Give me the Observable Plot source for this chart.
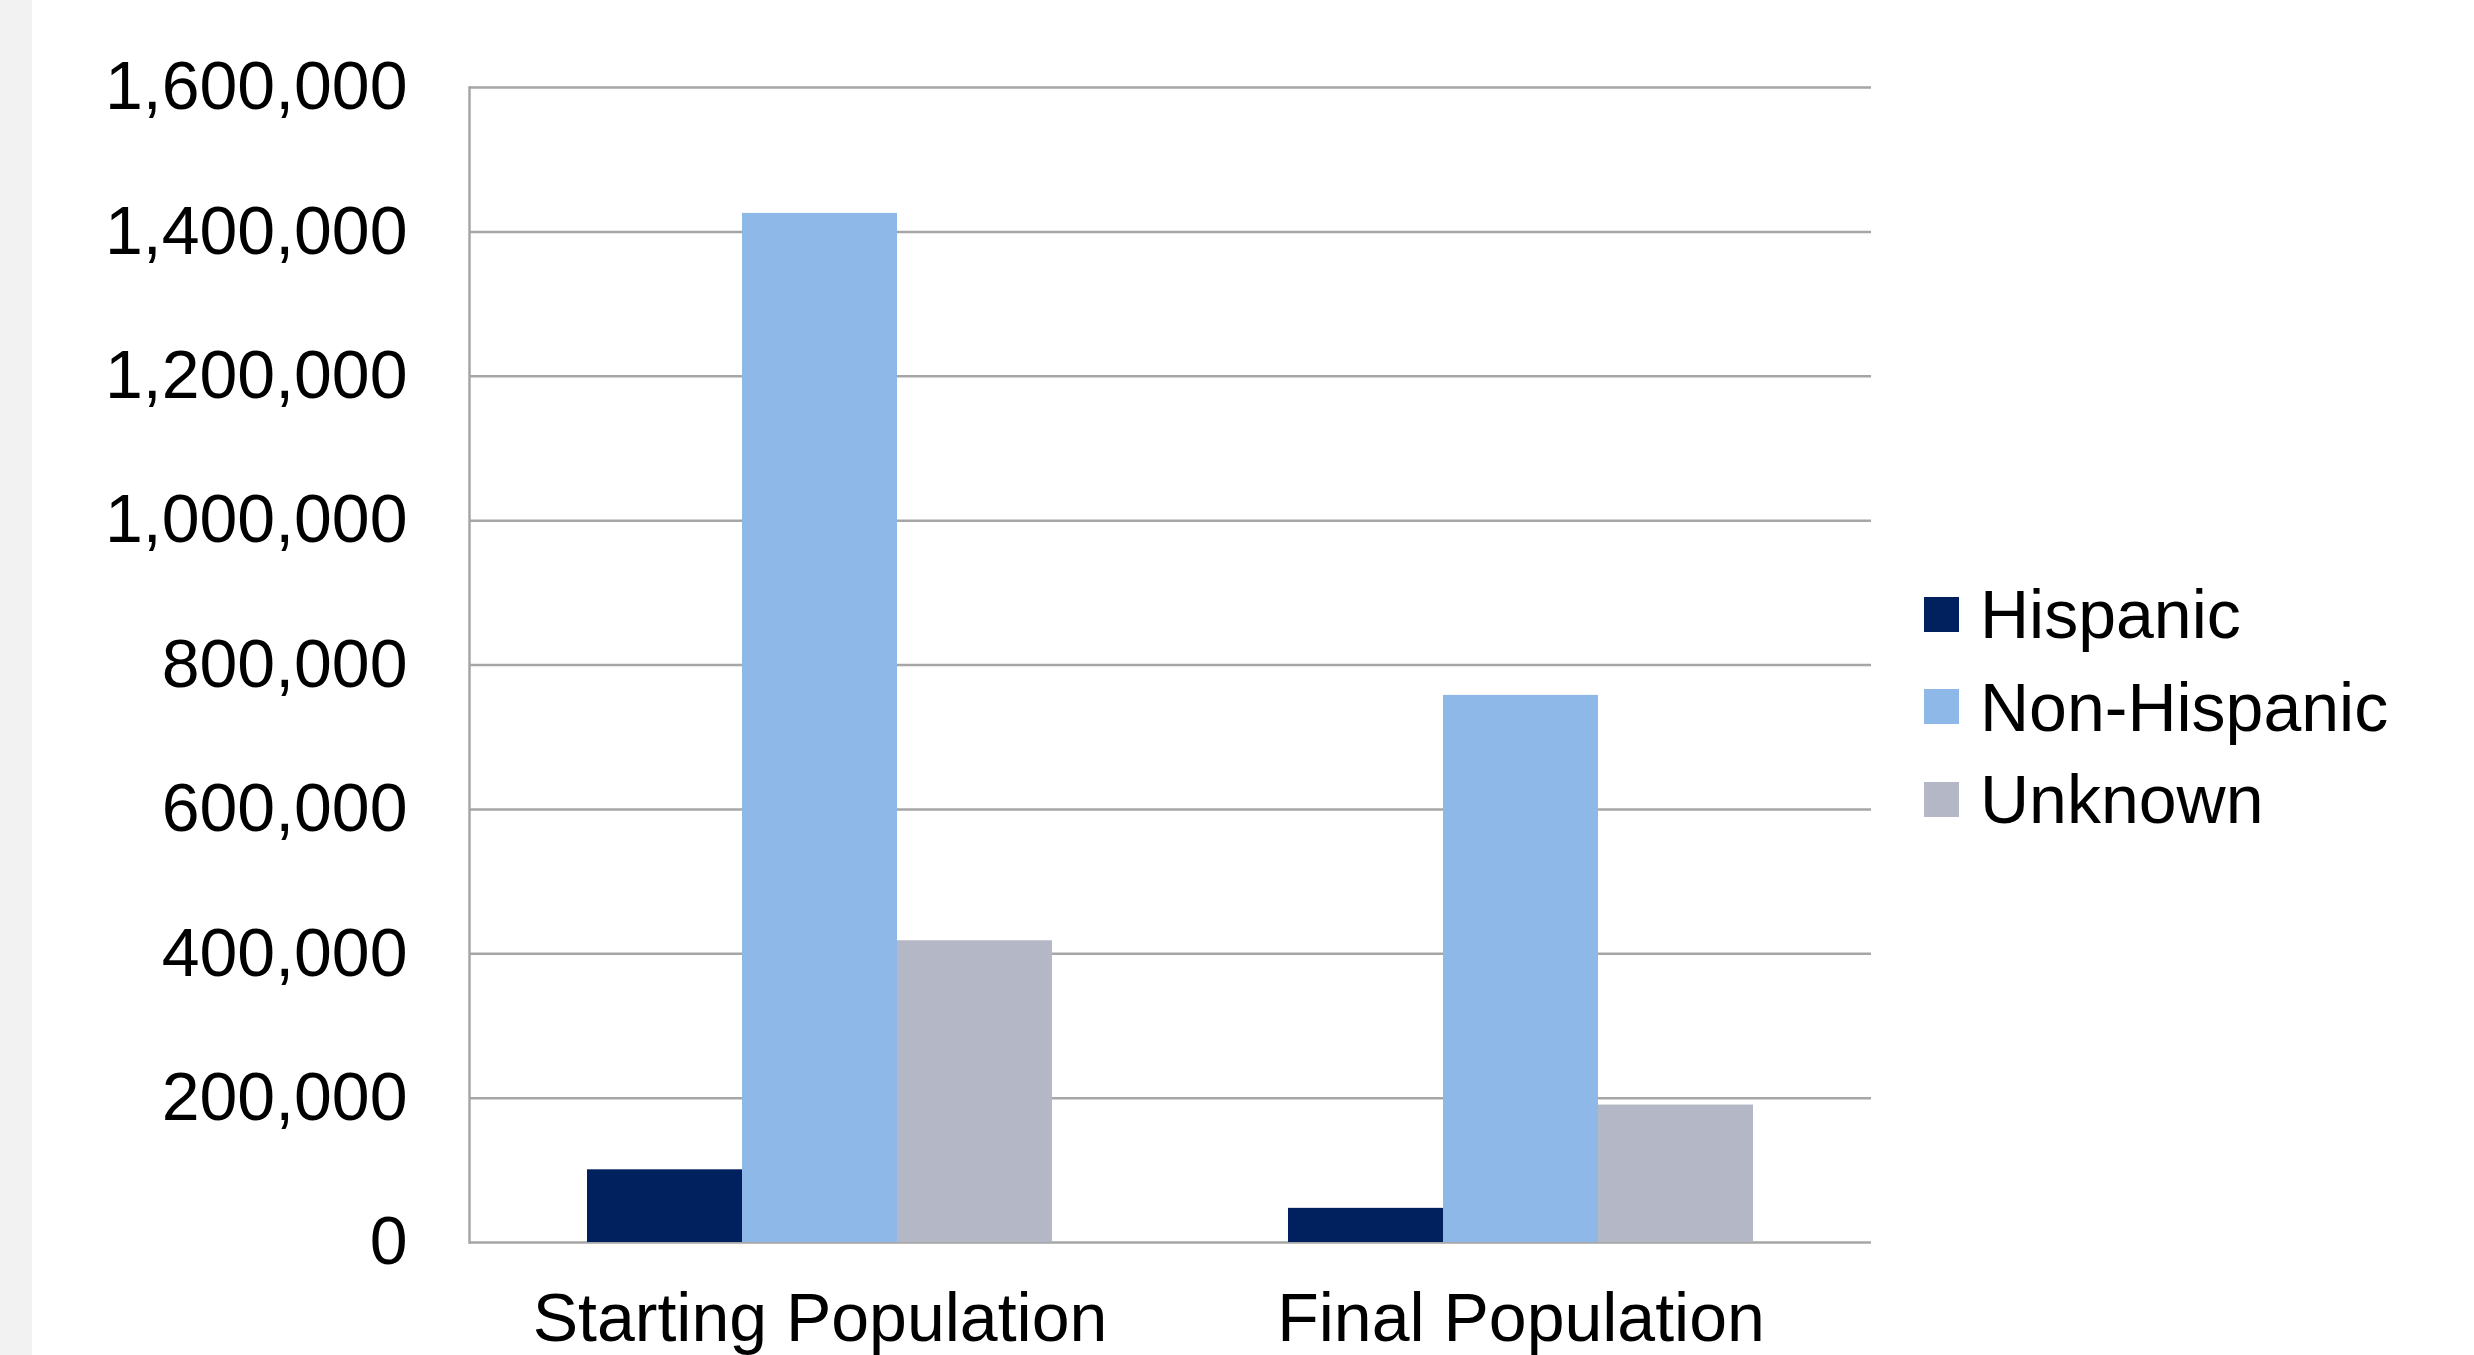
<!DOCTYPE html>
<html><head><meta charset="utf-8">
<script src="https://cdn.jsdelivr.net/npm/d3@7"></script>
<script src="https://cdn.jsdelivr.net/npm/@observablehq/plot@0.6"></script>
<style>
html,body{margin:0;padding:0;background:#fff;width:2474px;height:1355px;overflow:hidden;font-family:"Liberation Sans",Arial,sans-serif;}
#strip{position:absolute;left:0;top:0;width:32px;height:1355px;background:#f2f2f2;}
#chart{position:absolute;left:0;top:0;}
#legend{position:absolute;left:1924px;top:568px;}
.item{display:flex;align-items:center;height:92.5px;font-size:68px;line-height:68px;color:#000;white-space:nowrap;}
.sw{width:35px;height:35px;margin-right:21px;flex:none;}
</style></head>
<body><div id="strip"></div><div id="chart"></div><div id="legend"></div>
<script>
const categories = ["Starting Population", "Final Population"];
const series = ["Hispanic", "Non-Hispanic", "Unknown"];
const hispanic = [100700, 47300];
const nonHispanic = [1425600, 757900];
const unknown = [418000, 190400];
const colors = ["#00215E", "#8EB8E8", "#B4B7C6"];
const yTicks = [0, 200000, 400000, 600000, 800000, 1000000, 1200000, 1400000, 1600000];

const values = [hispanic, nonHispanic, unknown];
const data = categories.flatMap((c, i) => series.map((s, j) => ({category: c, series: s, value: values[j][i]})));

const chart = Plot.plot({
  width: 2474, height: 1355,
  marginLeft: 469, marginRight: 603, marginTop: 87, marginBottom: 113,
  style: {background: "transparent", fontFamily: "'Liberation Sans', Arial, sans-serif", fontSize: "68px", color: "#000", overflow: "visible"},
  fx: {domain: categories, padding: 0, label: null},
  x: {domain: series, paddingInner: 0, paddingOuter: 0.75, axis: null},
  y: {domain: [0, 1600000], axis: null},
  color: {domain: series, range: colors},
  marks: [
    Plot.gridY(yTicks, {stroke: "#a6a6a6", strokeOpacity: 1, strokeWidth: 2.5}),
    Plot.frame({anchor: "left", facetAnchor: "left", stroke: "#a6a6a6", strokeWidth: 2.5}),
    Plot.barY(data, {fx: "category", x: "series", y: "value", fill: "series"}),
    Plot.axisY(yTicks, {tickSize: 0, tickPadding: 62, tickFormat: d3.format(","), fontSize: 68, label: null, fill: "#000"}),
    Plot.axisFx({anchor: "bottom", tickSize: 0, tickPadding: 50, fontSize: 68, label: null, fill: "#000"})
  ]
});
document.getElementById("chart").appendChild(chart);

const legend = document.getElementById("legend");
series.forEach((s, i) => {
  const item = document.createElement("div");
  item.className = "item";
  const sw = document.createElement("div");
  sw.className = "sw";
  sw.style.background = colors[i];
  const label = document.createElement("span");
  label.textContent = s;
  item.appendChild(sw);
  item.appendChild(label);
  legend.appendChild(item);
});
</script>
</body></html>
